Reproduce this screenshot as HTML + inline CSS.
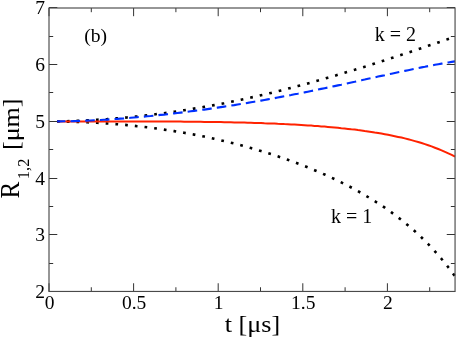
<!DOCTYPE html><html><head><meta charset="utf-8"><style>html,body{margin:0;padding:0;background:#fff}svg{display:block;will-change:transform}text{font-family:"Liberation Serif",serif;fill:#000}</style></head><body>
<svg width="457" height="338" viewBox="0 0 457 338">
<rect width="457" height="338" fill="#fff"/>
<g fill="none" stroke-linecap="butt">
<path d="M57.0,121.4 L60.3,121.3 L63.7,121.3 L67.0,121.2 L70.4,121.0 L73.7,120.9 L77.1,120.8 L80.4,120.6 L83.8,120.5 L87.1,120.3 L90.4,120.1 L93.8,119.9 L97.1,119.7 L100.5,119.5 L103.8,119.3 L107.2,119.1 L110.5,118.8 L113.9,118.5 L117.2,118.3 L120.5,118.0 L123.9,117.7 L127.2,117.4 L130.6,117.0 L133.9,116.7 L137.3,116.4 L140.6,116.0 L144.0,115.6 L147.3,115.3 L150.6,114.9 L154.0,114.5 L157.3,114.0 L160.7,113.6 L164.0,113.2 L167.4,112.7 L170.7,112.2 L174.1,111.8 L177.4,111.3 L180.7,110.8 L184.1,110.2 L187.4,109.7 L190.8,109.2 L194.1,108.6 L197.5,108.1 L200.8,107.5 L204.2,106.9 L207.5,106.3 L210.8,105.7 L214.2,105.1 L217.5,104.5 L220.9,103.8 L224.2,103.2 L227.6,102.5 L230.9,101.8 L234.3,101.1 L237.6,100.4 L240.9,99.7 L244.3,99.0 L247.6,98.3 L251.0,97.5 L254.3,96.8 L257.7,96.0 L261.0,95.2 L264.4,94.5 L267.7,93.7 L271.1,92.9 L274.4,92.1 L277.7,91.2 L281.1,90.4 L284.4,89.6 L287.8,88.7 L291.1,87.8 L294.5,87.0 L297.8,86.1 L301.2,85.2 L304.5,84.3 L307.8,83.4 L311.2,82.5 L314.5,81.5 L317.9,80.6 L321.2,79.6 L324.6,78.7 L327.9,77.7 L331.3,76.8 L334.6,75.8 L337.9,74.8 L341.3,73.8 L344.6,72.8 L348.0,71.8 L351.3,70.8 L354.7,69.8 L358.0,68.7 L361.4,67.7 L364.7,66.7 L368.0,65.6 L371.4,64.6 L374.7,63.5 L378.1,62.4 L381.4,61.4 L384.8,60.3 L388.1,59.2 L391.5,58.1 L394.8,57.0 L398.1,55.9 L401.5,54.8 L404.8,53.7 L408.2,52.6 L411.5,51.5 L414.9,50.3 L418.2,49.2 L421.6,48.1 L424.9,47.0 L428.2,45.8 L431.6,44.7 L434.9,43.6 L438.3,42.4 L441.6,41.3 L445.0,40.1 L448.3,39.0 L451.7,37.8 L455.0,36.7" stroke="#000" stroke-width="2.6" stroke-dasharray="2.7 7.05"/>
<path d="M57.0,121.4 L60.3,121.4 L63.7,121.5 L67.0,121.6 L70.4,121.6 L73.7,121.7 L77.1,121.9 L80.4,122.0 L83.8,122.1 L87.1,122.3 L90.4,122.4 L93.8,122.6 L97.1,122.8 L100.5,123.0 L103.8,123.2 L107.2,123.5 L110.5,123.7 L113.9,124.0 L117.2,124.2 L120.5,124.5 L123.9,124.8 L127.2,125.1 L130.6,125.5 L133.9,125.8 L137.3,126.2 L140.6,126.5 L144.0,126.9 L147.3,127.3 L150.6,127.7 L154.0,128.2 L157.3,128.6 L160.7,129.1 L164.0,129.6 L167.4,130.1 L170.7,130.6 L174.1,131.1 L177.4,131.7 L180.7,132.2 L184.1,132.8 L187.4,133.4 L190.8,134.0 L194.1,134.6 L197.5,135.3 L200.8,135.9 L204.2,136.6 L207.5,137.3 L210.8,138.0 L214.2,138.8 L217.5,139.5 L220.9,140.3 L224.2,141.1 L227.6,141.9 L230.9,142.7 L234.3,143.5 L237.6,144.4 L240.9,145.3 L244.3,146.2 L247.6,147.1 L251.0,148.1 L254.3,149.0 L257.7,150.0 L261.0,151.0 L264.4,152.0 L267.7,153.1 L271.1,154.1 L274.4,155.2 L277.7,156.3 L281.1,157.5 L284.4,158.6 L287.8,159.8 L291.1,161.0 L294.5,162.3 L297.8,163.5 L301.2,164.8 L304.5,166.1 L307.8,167.4 L311.2,168.8 L314.5,170.2 L317.9,171.6 L321.2,173.0 L324.6,174.5 L327.9,176.0 L331.3,177.6 L334.6,179.1 L337.9,180.7 L341.3,182.4 L344.6,184.1 L348.0,185.8 L351.3,187.5 L354.7,189.3 L358.0,191.2 L361.4,193.1 L364.7,195.0 L368.0,197.0 L371.4,199.0 L374.7,201.1 L378.1,203.2 L381.4,205.4 L384.8,207.7 L388.1,210.0 L391.5,212.4 L394.8,214.9 L398.1,217.4 L401.5,220.0 L404.8,222.7 L408.2,225.5 L411.5,228.3 L414.9,231.3 L418.2,234.4 L421.6,237.5 L424.9,240.8 L428.2,244.2 L431.6,247.7 L434.9,251.3 L438.3,255.1 L441.6,259.0 L445.0,263.0 L448.3,267.3 L451.7,271.7 L455.0,276.2" stroke="#000" stroke-width="2.6" stroke-dasharray="2.7 7.05"/>
<path d="M57.0,121.4 L60.3,121.4 L63.7,121.4 L67.0,121.4 L70.4,121.4 L73.7,121.4 L77.1,121.4 L80.4,121.4 L83.8,121.4 L87.1,121.4 L90.4,121.4 L93.8,121.4 L97.1,121.4 L100.5,121.4 L103.8,121.4 L107.2,121.4 L110.5,121.4 L113.9,121.4 L117.2,121.4 L120.5,121.4 L123.9,121.4 L127.2,121.4 L130.6,121.4 L133.9,121.4 L137.3,121.4 L140.6,121.5 L144.0,121.5 L147.3,121.5 L150.6,121.5 L154.0,121.5 L157.3,121.5 L160.7,121.5 L164.0,121.5 L167.4,121.6 L170.7,121.6 L174.1,121.6 L177.4,121.6 L180.7,121.6 L184.1,121.7 L187.4,121.7 L190.8,121.7 L194.1,121.8 L197.5,121.8 L200.8,121.8 L204.2,121.9 L207.5,121.9 L210.8,122.0 L214.2,122.0 L217.5,122.1 L220.9,122.1 L224.2,122.2 L227.6,122.3 L230.9,122.3 L234.3,122.4 L237.6,122.5 L240.9,122.6 L244.3,122.6 L247.6,122.7 L251.0,122.8 L254.3,122.9 L257.7,123.0 L261.0,123.1 L264.4,123.3 L267.7,123.4 L271.1,123.5 L274.4,123.6 L277.7,123.8 L281.1,123.9 L284.4,124.1 L287.8,124.2 L291.1,124.4 L294.5,124.6 L297.8,124.8 L301.2,125.0 L304.5,125.2 L307.8,125.4 L311.2,125.6 L314.5,125.9 L317.9,126.1 L321.2,126.4 L324.6,126.6 L327.9,126.9 L331.3,127.2 L334.6,127.5 L337.9,127.8 L341.3,128.2 L344.6,128.5 L348.0,128.9 L351.3,129.3 L354.7,129.6 L358.0,130.1 L361.4,130.5 L364.7,131.0 L368.0,131.4 L371.4,131.9 L374.7,132.5 L378.1,133.0 L381.4,133.6 L384.8,134.2 L388.1,134.8 L391.5,135.5 L394.8,136.2 L398.1,136.9 L401.5,137.6 L404.8,138.4 L408.2,139.3 L411.5,140.1 L414.9,141.1 L418.2,142.0 L421.6,143.0 L424.9,144.1 L428.2,145.2 L431.6,146.4 L434.9,147.7 L438.3,149.0 L441.6,150.3 L445.0,151.8 L448.3,153.3 L451.7,154.9 L455.0,156.6" stroke="#ff2200" stroke-width="2"/>
<path d="M57.0,121.4 L60.3,121.4 L63.7,121.3 L67.0,121.3 L70.4,121.2 L73.7,121.1 L77.1,121.0 L80.4,120.9 L83.8,120.8 L87.1,120.6 L90.4,120.5 L93.8,120.3 L97.1,120.1 L100.5,120.0 L103.8,119.8 L107.2,119.6 L110.5,119.3 L113.9,119.1 L117.2,118.9 L120.5,118.6 L123.9,118.4 L127.2,118.1 L130.6,117.8 L133.9,117.5 L137.3,117.2 L140.6,116.9 L144.0,116.6 L147.3,116.3 L150.6,116.0 L154.0,115.6 L157.3,115.3 L160.7,114.9 L164.0,114.6 L167.4,114.2 L170.7,113.8 L174.1,113.4 L177.4,113.0 L180.7,112.6 L184.1,112.2 L187.4,111.8 L190.8,111.3 L194.1,110.9 L197.5,110.5 L200.8,110.0 L204.2,109.6 L207.5,109.1 L210.8,108.6 L214.2,108.1 L217.5,107.6 L220.9,107.1 L224.2,106.6 L227.6,106.1 L230.9,105.6 L234.3,105.1 L237.6,104.5 L240.9,104.0 L244.3,103.4 L247.6,102.9 L251.0,102.3 L254.3,101.7 L257.7,101.2 L261.0,100.6 L264.4,100.0 L267.7,99.4 L271.1,98.8 L274.4,98.2 L277.7,97.5 L281.1,96.9 L284.4,96.3 L287.8,95.6 L291.1,95.0 L294.5,94.3 L297.8,93.7 L301.2,93.0 L304.5,92.4 L307.8,91.7 L311.2,91.0 L314.5,90.3 L317.9,89.6 L321.2,88.9 L324.6,88.2 L327.9,87.5 L331.3,86.8 L334.6,86.1 L337.9,85.4 L341.3,84.7 L344.6,83.9 L348.0,83.2 L351.3,82.5 L354.7,81.8 L358.0,81.0 L361.4,80.3 L364.7,79.6 L368.0,78.8 L371.4,78.1 L374.7,77.4 L378.1,76.6 L381.4,75.9 L384.8,75.2 L388.1,74.4 L391.5,73.7 L394.8,73.0 L398.1,72.3 L401.5,71.6 L404.8,70.9 L408.2,70.2 L411.5,69.5 L414.9,68.8 L418.2,68.1 L421.6,67.4 L424.9,66.8 L428.2,66.1 L431.6,65.5 L434.9,64.8 L438.3,64.2 L441.6,63.6 L445.0,63.0 L448.3,62.5 L451.7,61.9 L455.0,61.4" stroke="#0030ff" stroke-width="2.1" stroke-dasharray="9.6 5.1" stroke-dashoffset="1.2"/>
</g>
<g stroke="#333" stroke-width="1"><line x1="49.0" y1="291.45" x2="49.0" y2="283.25"/><line x1="49.0" y1="8.0" x2="49.0" y2="16.2"/><line x1="91.3" y1="291.45" x2="91.3" y2="287.25"/><line x1="91.3" y1="8.0" x2="91.3" y2="12.2"/><line x1="133.6" y1="291.45" x2="133.6" y2="283.25"/><line x1="133.6" y1="8.0" x2="133.6" y2="16.2"/><line x1="175.9" y1="291.45" x2="175.9" y2="287.25"/><line x1="175.9" y1="8.0" x2="175.9" y2="12.2"/><line x1="218.2" y1="291.45" x2="218.2" y2="283.25"/><line x1="218.2" y1="8.0" x2="218.2" y2="16.2"/><line x1="260.5" y1="291.45" x2="260.5" y2="287.25"/><line x1="260.5" y1="8.0" x2="260.5" y2="12.2"/><line x1="302.8" y1="291.45" x2="302.8" y2="283.25"/><line x1="302.8" y1="8.0" x2="302.8" y2="16.2"/><line x1="345.1" y1="291.45" x2="345.1" y2="287.25"/><line x1="345.1" y1="8.0" x2="345.1" y2="12.2"/><line x1="387.4" y1="291.45" x2="387.4" y2="283.25"/><line x1="387.4" y1="8.0" x2="387.4" y2="16.2"/><line x1="429.7" y1="291.45" x2="429.7" y2="287.25"/><line x1="429.7" y1="8.0" x2="429.7" y2="12.2"/><line x1="49.0" y1="291.5" x2="57.3" y2="291.5"/><line x1="455.05" y1="291.5" x2="446.75" y2="291.5"/><line x1="49.0" y1="263.5" x2="53.2" y2="263.5"/><line x1="455.05" y1="263.5" x2="450.85" y2="263.5"/><line x1="49.0" y1="234.5" x2="57.3" y2="234.5"/><line x1="455.05" y1="234.5" x2="446.75" y2="234.5"/><line x1="49.0" y1="206.5" x2="53.2" y2="206.5"/><line x1="455.05" y1="206.5" x2="450.85" y2="206.5"/><line x1="49.0" y1="178.5" x2="57.3" y2="178.5"/><line x1="455.05" y1="178.5" x2="446.75" y2="178.5"/><line x1="49.0" y1="149.5" x2="53.2" y2="149.5"/><line x1="455.05" y1="149.5" x2="450.85" y2="149.5"/><line x1="49.0" y1="121.5" x2="57.3" y2="121.5"/><line x1="455.05" y1="121.5" x2="446.75" y2="121.5"/><line x1="49.0" y1="92.5" x2="53.2" y2="92.5"/><line x1="455.05" y1="92.5" x2="450.85" y2="92.5"/><line x1="49.0" y1="64.5" x2="57.3" y2="64.5"/><line x1="455.05" y1="64.5" x2="446.75" y2="64.5"/><line x1="49.0" y1="36.5" x2="53.2" y2="36.5"/><line x1="455.05" y1="36.5" x2="450.85" y2="36.5"/><line x1="49.0" y1="7.5" x2="57.3" y2="7.5"/><line x1="455.05" y1="7.5" x2="446.75" y2="7.5"/></g>
<rect x="49.0" y="8.0" width="406.05" height="283.45" fill="none" stroke="#4a4a4a" stroke-width="1.15"/>
<text x="49.5" y="309" text-anchor="middle" font-size="19.5">0</text><text x="134.1" y="309" text-anchor="middle" font-size="19.5">0.5</text><text x="218.7" y="309" text-anchor="middle" font-size="19.5">1</text><text x="303.3" y="309" text-anchor="middle" font-size="19.5">1.5</text><text x="387.9" y="309" text-anchor="middle" font-size="19.5">2</text><text x="45" y="298.0" text-anchor="end" font-size="19.5">2</text><text x="45" y="241.2" text-anchor="end" font-size="19.5">3</text><text x="45" y="184.5" text-anchor="end" font-size="19.5">4</text><text x="45" y="127.8" text-anchor="end" font-size="19.5">5</text><text x="45" y="71.0" text-anchor="end" font-size="19.5">6</text><text x="45" y="14.2" text-anchor="end" font-size="19.5">7</text>
<text x="84.2" y="42.4" font-size="19.6">(b)</text>
<text x="374.7" y="40.7" font-size="20">k = 2</text>
<text x="330.9" y="222.6" font-size="20">k = 1</text>
<text transform="translate(252.5,332) scale(1.09,1)" text-anchor="middle" font-size="24">t [μs]</text>
<g transform="translate(19.2,198.2) rotate(-90)"><text transform="translate(-0.3,0) scale(0.93,1)" font-size="27">R</text><text x="19" y="9.5" font-size="16.5">1,2</text><text transform="translate(48.2,0) scale(1.085,1)" font-size="24">[μm]</text></g>
</svg></body></html>
